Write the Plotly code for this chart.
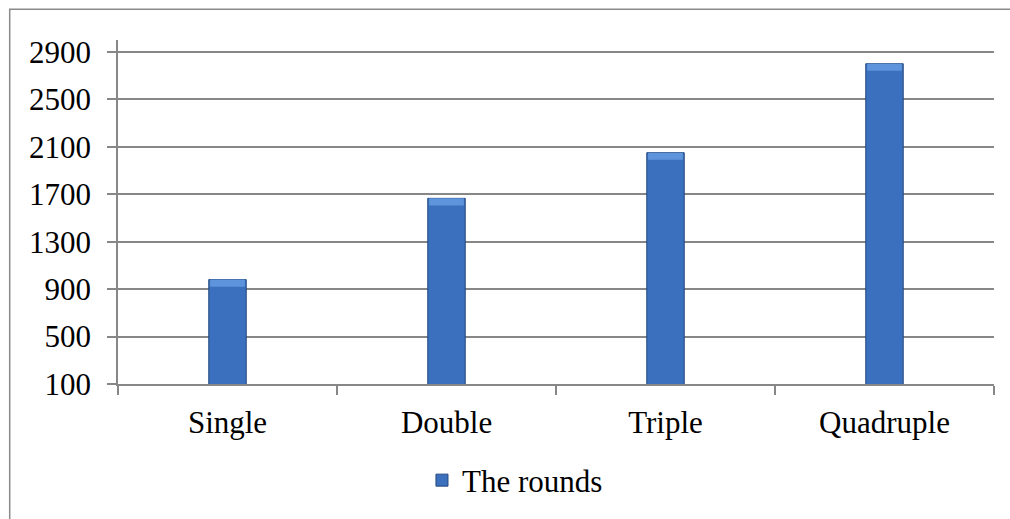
import plotly.graph_objects as go

# Chart data
categories = ["Single", "Double", "Triple", "Quadruple"]
rounds = [980, 1665, 2050, 2800]
series_name = "The rounds"
y_ticks = [100, 500, 900, 1300, 1700, 2100, 2500, 2900]

FONT = "Liberation Serif, Times New Roman, serif"
GRID = "#878787"
BAR_W = 0.171
CAP = 60  # depth of the lighter bevel band at each bar's top, in data units

fig = go.Figure()
fig.add_trace(go.Bar(
    x=categories,
    y=rounds,
    name=series_name,
    base=0,
    width=BAR_W,
    marker=dict(color="#3A70BD", line=dict(color="#23477E", width=1)),
    showlegend=True,
))
# Lighter bevel band along the top of each bar
fig.add_trace(go.Bar(
    x=categories,
    y=[CAP] * len(rounds),
    base=[v - CAP for v in rounds],
    width=BAR_W - 0.012,
    marker=dict(color="#5E94DB", line=dict(width=0)),
    showlegend=False,
    hoverinfo="skip",
))

W, H = 1010, 519
L, R, T, B = 118, 16, 40, 135

fig.update_layout(
    width=W, height=H,
    margin=dict(l=L, r=R, t=T, b=B, pad=0, autoexpand=False),
    paper_bgcolor="white",
    plot_bgcolor="white",
    font=dict(family=FONT, size=31, color="black"),
    barmode="overlay",
    showlegend=True,
    legend=dict(
        orientation="h",
        x=0.347, xanchor="left",
        y=-0.202, yanchor="top",
        font=dict(family=FONT, size=31, color="black"),
        bgcolor="rgba(0,0,0,0)",
        itemwidth=30,
    ),
    xaxis=dict(
        type="category",
        showgrid=False,
        showline=True, linecolor=GRID, linewidth=1.5,
        ticks="outside", tickson="boundaries", ticklen=9,
        tickcolor=GRID, tickwidth=1.5,
        tickfont=dict(family=FONT, size=31),
        ticklabelstandoff=10,
        automargin=False,
    ),
    yaxis=dict(
        range=[100, 3000],
        tickvals=y_ticks,
        showgrid=True, gridcolor=GRID, gridwidth=1.5,
        showline=True, linecolor=GRID, linewidth=1.5,
        ticks="outside", ticklen=9, tickcolor=GRID, tickwidth=1.5,
        tickfont=dict(family=FONT, size=31),
        ticklabelstandoff=10,
        zeroline=False,
        automargin=False,
    ),
)

# Outer chart frame: left and top edges (the rest runs off the page)
pw, ph = W - L - R, H - T - B
fx0 = (9.7 - L) / pw
fx1 = (W + 40 - L) / pw
fy0 = (H - B - (H + 40)) / ph
fy1 = (H - B - 9.3) / ph
fig.add_shape(
    type="path", xref="paper", yref="paper",
    path=f"M {fx0} {fy0} L {fx0} {fy1} L {fx1} {fy1}",
    line=dict(color="#8A8A8A", width=1.5),
    layer="below",
)

fig.write_html("out.html")
